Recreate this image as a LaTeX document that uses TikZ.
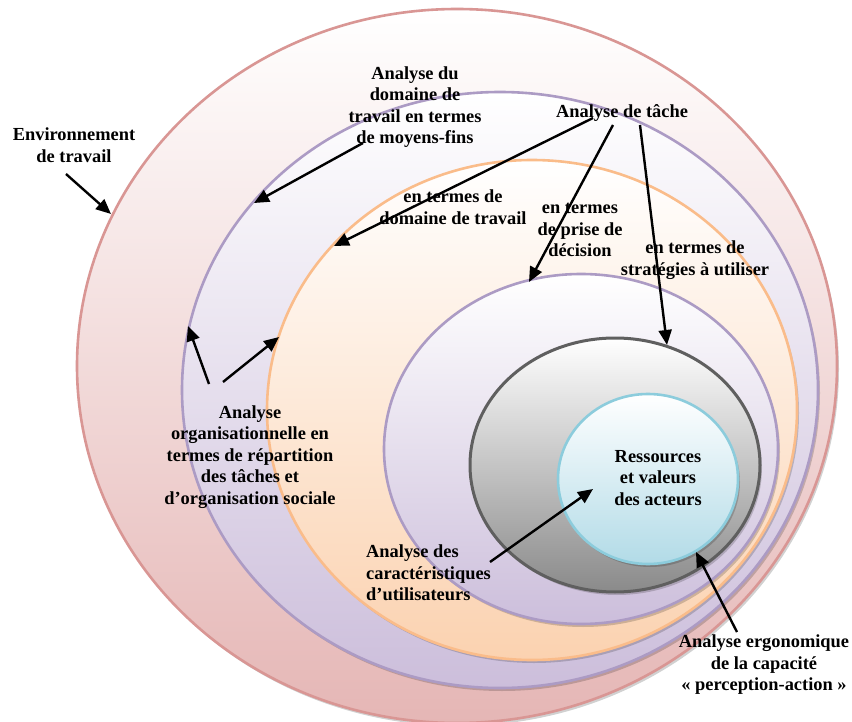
\documentclass[tikz,border=0pt]{standalone}
\usepackage{fontspec}
\setmainfont{Liberation Serif}
\usetikzlibrary{arrows.meta}
\definecolor{envline}{RGB}{217,150,148}
\definecolor{envfill}{RGB}{229,182,181}
\definecolor{lilaline}{RGB}{172,155,196}
\definecolor{lilafill}{RGB}{204,190,219}
\definecolor{peachline}{RGB}{250,188,138}
\definecolor{peachfill}{RGB}{251,210,176}
\definecolor{greyline}{RGB}{95,95,95}
\definecolor{greyfill}{RGB}{138,138,138}
\definecolor{cyanline}{RGB}{140,204,220}
\definecolor{cyanfill}{RGB}{178,219,231}
\tikzset{
  lbl/.style={font=\bfseries\fontsize{18.4}{21.5}\selectfont, align=center, inner sep=0pt},
  arr/.style={line width=2.4pt, -{Triangle[length=15pt,width=13pt]}},
  ring/.style={line width=2.6pt},
  shadow/.style={fill=black, opacity=0.18},
}
\begin{document}
\begin{tikzpicture}[x=1pt, y=-1pt]
    \useasboundingbox (0,0) rectangle (852,722);
    \fill[white] (0,0) rectangle (852,722);
    \fill[shadow] (459,369) ellipse (380pt and 357pt);
    \shadedraw[top color=white, bottom color=envfill, draw=envline, ring] (457,366) ellipse (380pt and 357pt);
    \fill[shadow] (502,393) ellipse (318pt and 298pt);
    \shadedraw[top color=white, bottom color=lilafill, draw=lilaline, ring] (500,390) ellipse (318pt and 298pt);
    \fill[shadow] (534,413) ellipse (265pt and 250pt);
    \shadedraw[top color=white, bottom color=peachfill, draw=peachline, ring] (532,410) ellipse (265pt and 250pt);
    \fill[shadow] (583,452) ellipse (197pt and 175pt);
    \shadedraw[top color=white, bottom color=lilafill, draw=lilaline, ring] (581,449) ellipse (197pt and 175pt);
    \fill[shadow] (617,468) ellipse (145pt and 127pt);
    \shadedraw[top color=white, bottom color=greyfill, draw=greyline, line width=3pt] (615,465) ellipse (145pt and 127pt);
    \fill[shadow] (650,482) ellipse (90pt and 85pt);
    \shadedraw[top color=white, bottom color=cyanfill, draw=cyanline, ring] (648,479) ellipse (90pt and 85pt);

    \node[lbl] (env) at (74,145) {Environnement\\de travail};
    \node[lbl] (moyens) at (415,107) {Analyse du\\domaine de\\travail en termes\\de moyens-fins};
    \node[lbl] (tache) at (622,113) {Analyse de tâche};
    \node[lbl] (domaine) at (453,207) {en termes de\\domaine de travail};
    \node[lbl] (prise) at (580,230) {en termes\\de prise de\\décision};
    \node[lbl] (strat) at (695,260) {en termes de\\stratégies à utiliser};
    \node[lbl] (orga) at (250,457) {Analyse\\organisationnelle en\\termes de répartition\\des tâches et\\d’organisation sociale};
    \node[lbl, align=left, anchor=west] (carac) at (366,573) {Analyse des\\caractéristiques\\d’utilisateurs};
    \node[lbl] (ress) at (658,478) {Ressources\\et valeurs\\des acteurs};
    \node[lbl] (ergo) at (764,665) {Analyse ergonomique\\de la capacité\\« perception-action »};

    \coordinate (env-t) at (66,174);
    \coordinate (env-h) at (111,214);
    \coordinate (moy-t) at (363,143);
    \coordinate (moy-h) at (254,203);
    \coordinate (dom-t) at (593,118);
    \coordinate (dom-h) at (334,246);
    \coordinate (pri-t) at (613,125);
    \coordinate (pri-h) at (529,282);
    \coordinate (str-t) at (640,125);
    \coordinate (str-h) at (667,345);
    \coordinate (org-ta) at (209,384);
    \coordinate (org-ha) at (188,326);
    \coordinate (org-tb) at (223,382);
    \coordinate (org-hb) at (279,337);
    \coordinate (car-t) at (490,562);
    \coordinate (car-h) at (593,489);
    \coordinate (erg-t) at (737,632);
    \coordinate (erg-h) at (696,552);

    \draw[arr] (env-t) -- (env-h);
    \draw[arr] (moy-t) -- (moy-h);
    \draw[arr] (dom-t) -- (dom-h);
    \draw[arr] (pri-t) -- (pri-h);
    \draw[arr] (str-t) -- (str-h);
    \draw[arr] (org-ta) -- (org-ha);
    \draw[arr] (org-tb) -- (org-hb);
    \draw[arr] (car-t) -- (car-h);
    \draw[arr] (erg-t) -- (erg-h);
  \end{tikzpicture}
\end{document}
